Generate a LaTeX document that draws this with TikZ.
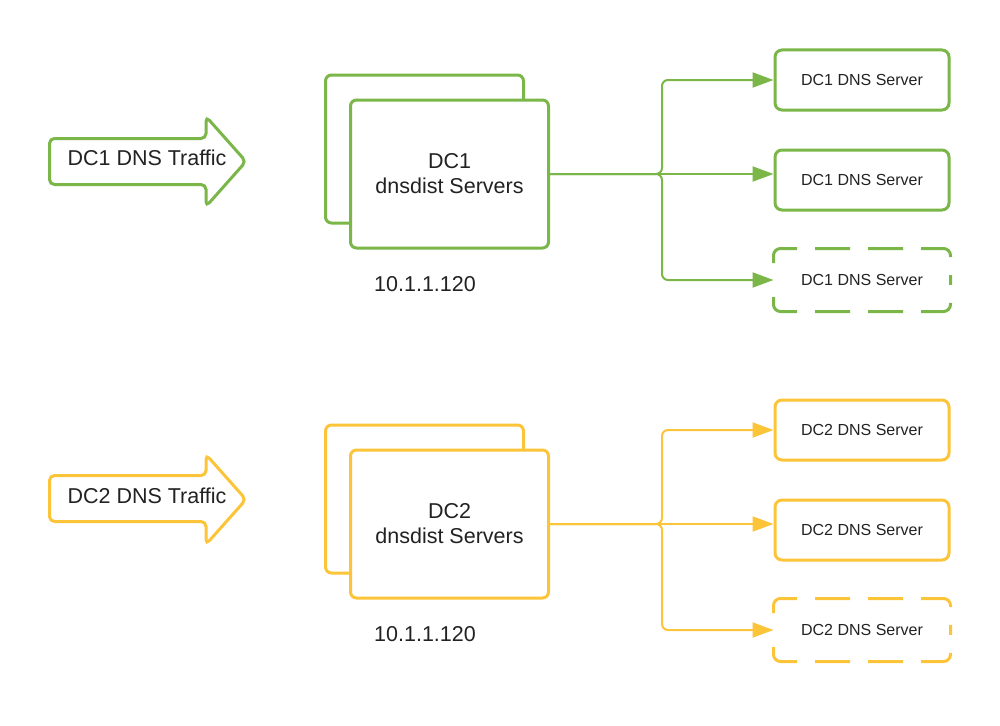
\documentclass[tikz,border=0pt]{standalone}
\usepackage{fontspec}
\setmainfont{Liberation Sans}
\usetikzlibrary{arrows.meta}
\definecolor{dcgreen}{HTML}{7AB648}
\definecolor{dcyellow}{HTML}{FCC438}
\definecolor{txt}{HTML}{222222}
\begin{document}
\begin{tikzpicture}[x=1pt,y=-1pt,
  srvbox/.style={rectangle, rounded corners=7pt, line width=3pt, minimum width=174pt, minimum height=60pt, inner sep=0pt, font=\fontsize{16}{19}\selectfont, text=txt},
  ddbox/.style={rectangle, rounded corners=6pt, line width=3pt, fill=white, minimum width=198pt, minimum height=148pt, inner sep=0pt, align=center, font=\fontsize{21.5}{25}\selectfont, text=txt},
  conn/.style={line width=2pt, rounded corners=6pt, -{Triangle[length=21pt,width=15pt]}},
  bigarrow/.style={line width=3pt, rounded corners=5pt, fill=white},
  lbl/.style={font=\fontsize{21.5}{25}\selectfont, text=txt, inner sep=0pt},
  dashedge/.style={line width=3pt, rounded corners=7pt, dash pattern=on 35pt off 18pt, dash phase=36pt}
]
\useasboundingbox (0,0) rectangle (1000,725);

% ---------- DC1 ----------
\draw[bigarrow, draw=dcgreen] (49.5,138.5) -- (206,138.5) -- (206,116.5) -- (246,161.5) -- (206,206.5) -- (206,184.5) -- (49.5,184.5) -- cycle;
\node[lbl, anchor=base] (t1) at (147,165) {DC1 DNS Traffic};

\node[ddbox, draw=dcgreen] (b1) at (424.5,149) {};
\node[ddbox, draw=dcgreen] (f1) at (449.5,174) {DC1\\dnsdist Servers};
\node[lbl] (ip1) at (425,284) {10.1.1.120};

\node[srvbox, draw=dcgreen] (s11) at (862,80) {DC1 DNS Server};
\node[srvbox, draw=dcgreen] (s12) at (862,180) {DC1 DNS Server};
\node[srvbox] (s13) at (862,280) {DC1 DNS Server};
\draw[dashedge, draw=dcgreen] (s13.west) -- (s13.north west) -- (s13.north east) -- (s13.east);
\draw[dashedge, draw=dcgreen] (s13.west) -- (s13.south west) -- (s13.south east) -- (s13.east);

\coordinate (j1) at (662,174);
\draw[conn, draw=dcgreen] (f1.east) -- (f1.east -| s12.west);
\draw[conn, draw=dcgreen] (f1.east) -- (j1) |- (s11.west);
\draw[conn, draw=dcgreen] (f1.east) -- (j1) |- (s13.west);

% ---------- DC2 ----------
\draw[bigarrow, draw=dcyellow] (49.5,475.5) -- (206,475.5) -- (206,454.5) -- (246,499.5) -- (206,544.5) -- (206,521.5) -- (49.5,521.5) -- cycle;
\node[lbl, anchor=base] (t2) at (147,503) {DC2 DNS Traffic};

\node[ddbox, draw=dcyellow] (b2) at (424.5,499) {};
\node[ddbox, draw=dcyellow] (f2) at (449.5,524) {DC2\\dnsdist Servers};
\node[lbl] (ip2) at (425,634) {10.1.1.120};

\node[srvbox, draw=dcyellow] (s21) at (862,430) {DC2 DNS Server};
\node[srvbox, draw=dcyellow] (s22) at (862,530) {DC2 DNS Server};
\node[srvbox] (s23) at (862,630) {DC2 DNS Server};
\draw[dashedge, draw=dcyellow] (s23.west) -- (s23.north west) -- (s23.north east) -- (s23.east);
\draw[dashedge, draw=dcyellow] (s23.west) -- (s23.south west) -- (s23.south east) -- (s23.east);

\coordinate (j2) at (662,524);
\draw[conn, draw=dcyellow] (f2.east) -- (f2.east -| s22.west);
\draw[conn, draw=dcyellow] (f2.east) -- (j2) |- (s21.west);
\draw[conn, draw=dcyellow] (f2.east) -- (j2) |- (s23.west);
\end{tikzpicture}
\end{document}
